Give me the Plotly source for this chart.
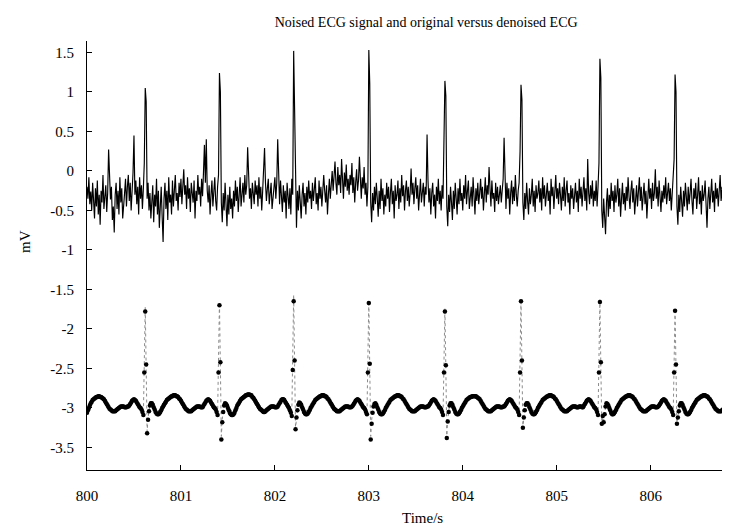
import numpy as np
import plotly.graph_objects as go

# ---- sampling / units -------------------------------------------------------
T_START = 800.0        # s, time of the first sample
DT = 0.01              # s, sampling step
UNIT = 0.01            # stored values are in units of 0.01 mV
LOWER_OFFSET = -3.0    # mV, original vs denoised pair is drawn shifted down by 3 mV

# ---- noised ECG (upper trace), 0.01 mV units --------------------------------
noised_ecg = [
    -20, -35, -8, -42, -26, -50, -15, -38, -60, -22, -45, -12, -55, -30, -68, -25, -40, -5, -48, -33,
    -18, -52, -28, 27, -10, -36, -20, -62, -45, -78, -30, -15, -48, -25, -55, -8, -40, -22, -60, -35,
    -28, -10, -45, -20, -5, -38, -15, -50, -25, -2, 45, -30, -12, -42, -20, -55, -8, -35, -18, -48,
    -22, 10, 105, 88, -35, -15, -50, -28, -60, -40, -18, -65, -30, -45, -10, -55, -25, -72, -38, -20,
    -58, -90, -35, -15, -48, -25, -62, -8, -40, -30, -55, -12, -45, -20, -5, -38, -28, -50, -15, -33,
    -10, -42, -25, 2, -30, -18, -48, -8, -35, -22, -52, -15, -28, -40, -12, -60, -25, -38, -5, -30,
    -20, -45, -10, -32, -2, 33, -15, 40, -25, -40, -18, -55, -30, -12, -45, -22, -8, -38, -50, -20,
    -5, 124, 100, -40, -65, -28, -50, -15, -42, -70, -30, -55, -20, -48, -35, -60, -25, -45, -12, -38,
    -20, -52, -30, -8, -45, -25, -15, -40, -5, -30, -18, 30, -10, -35, -22, -48, -15, -28, -42, -12,
    -30, -18, -45, -8, -35, -20, -50, -25, -5, 29, -15, -38, -22, -10, -42, -28, -15, -48, -30, -20,
    -8, -35, -15, 40, -20, -42, -12, -30, -52, -18, -40, -25, -60, -15, -35, -48, -22, -55, -10, -30,
    152, 80, -45, -72, -25, -50, -18, -38, -60, -30, -15, -45, -28, -55, -20, -40, -12, -35, -25, -48,
    -15, -38, -22, -8, -42, -28, -50, -12, -35, -20, -45, -30, -5, -25, -40, -18, -55, -30, -10, -35,
    -20, 0, -25, -8, 12, -15, -30, 5, -18, -5, -28, 15, -12, -35, -2, -20, 8, -25, -10, -30,
    -5, -18, 10, -28, -8, -40, -15, 2, -25, -12, 18, -20, -35, -8, -22, 5, -30, -15, -45, -20,
    153, 110, -40, -65, -28, -50, -20, -42, -15, -35, -58, -25, -48, -10, -38, -22, -55, -30, -45, -15,
    -35, -20, -52, -28, -10, -42, -25, -60, -18, -38, -30, -12, -48, -22, -40, -5, -32, -18, -50, -25,
    -12, -38, -20, -45, -28, 3, -30, -15, -42, -22, -8, -35, -18, -50, -25, -10, -40, -28, -15, -45,
    -20, -30, 46, -12, -40, -22, -55, -28, -15, -45, -30, -60, -20, -38, -10, -42, -25, -50, -18, -35,
    20, 114, 95, -45, -70, -30, -52, -20, -40, -62, -25, -48, -15, -35, -55, -22, -42, -10, -38, -28,
    -50, -18, -35, -5, -42, -25, -12, -48, -30, -20, -45, -8, -32, -55, -22, -38, -15, -42, -28, -10,
    -35, -20, -50, -25, -8, -40, -18, -30, 5, -22, -45, -12, -35, -28, -52, -15, -38, -20, -42, -30,
    -18, -40, -25, -10, 42, -30, -48, -15, -35, -22, -55, -28, -12, -42, -20, -38, -5, -30, -45, -25,
    -15, 25, 109, 90, -40, -62, -28, -48, -15, -38, -55, -22, -42, -30, -10, -45, -25, -52, -18, -35,
    -28, -12, -40, -22, -50, -8, -35, -18, -45, -30, -15, -38, -25, -55, -10, -32, -20, -48, -28, -5,
    -35, -22, -42, -15, -30, -50, -20, -38, -8, -45, -25, -12, -40, -28, -55, -18, -35, -22, -48, -30,
    -15, -40, -25, -52, -10, -35, -20, -45, -30, -8, -38, -22, -50, 15, -28, -42, -18, -35, -12, -45,
    -25, -38, -12, -45, -20, 10, 142, 118, -50, -72, -35, -55, -80, -40, -22, -58, -30, -48, -15, -38,
    -25, -52, -18, -40, -30, -10, -45, -22, -58, -35, -15, -42, -28, -50, -20, -38, -8, -32, -48, -25,
    -12, -40, -22, -55, -30, -18, -45, -28, -8, -38, -20, -50, -32, -15, -42, -25, -60, -30, -10, -35,
    -22, -48, -15, -38, -28, 2, -35, -20, -45, -12, -30, -52, -25, -40, -18, -35, -8, -42, -28, -15,
    -38, -22, -50, -30, -12, 15, 122, 100, -45, -68, -30, -52, -20, -40, -58, -25, -45, -15, -35, -50,
    -20, -42, -28, -10, -38, -55, -22, -35, -15, -48, -30, -8, -42, -25, -55, -18, -38, -30, -12, -45,
    -72, -35, -20, -48, -28, -10, -40, -25, -52, -15, -35, -22, -45, -30, -5, -38, -20, -50, -28, -12,
    -42, -25, -35, -15, -48, -30, -8, -40, -22, -55, -28, -12, -38, -20, -45, -30, -18, -42, -25, -35,
]

# ---- original ECG (gray dotted), 0.01 mV units, relative to its baseline -----
original_ecg = [
    -5, -2, 1, 4, 6, 8, 10, 11, 12, 13, 14, 14, 15, 15, 14, 14, 13, 12, 11, 9, 7, 5, 3, 1, 0, -1, -2, -3, -3, -3, -3, -2, -1, 0, 0, 1, 1, 2, 2, 2, 1, 1, 1, 2, 2,
    3, 5, 7, 9, 10, 11, 10, 9, 7, 5, 3, 1, 0, -1, -4, -10, 50,
    # beat 1
    128, 50, -30, -12, -2, 4, 6, 5, 3, 1,
    -1, -2, -3, -3, -3, -3, -2, -1, 1, 3, 5, 7, 9, 10, 11, 12, 13, 14, 15, 15, 16, 16, 16, 15, 15, 14, 12, 11, 9, 7, 5, 3, 1, 0, -1, -2, -3, -3, -3, -3, -2, -1, 0, 1, 1, 2, 2, 2, 2, 1, 1, 1,
    3, 5, 7, 9, 10, 11, 10, 9, 7, 5, 3, 1, 0, -1, -4, -10, 50,
    # beat 2
    134, 52, -36, -14, -3, 4, 6, 5, 3, 1,
    -1, -2, -3, -3, -3, -3, -2, -1, 1, 3, 5, 7, 9, 10, 11, 12, 13, 14, 15, 15, 16, 16, 16, 15, 15, 14, 12, 11, 9, 7, 5, 3, 1, 0, -1, -2, -3, -3, -3, -3, -2, -1, 0, 1, 1, 2, 2, 2, 2, 1, 1, 1,
    3, 5, 7, 9, 10, 11, 10, 9, 7, 5, 3, 1, 0, -1, -4, -10, 50,
    # beat 3
    143, 55, -28, -12, -2, 4, 6, 5, 3, 1,
    -1, -2, -3, -3, -3, -3, -2, -1, 1, 3, 5, 7, 9, 10, 11, 12, 13, 14, 15, 15, 16, 16, 16, 15, 15, 14, 12, 11, 9, 7, 5, 3, 1, 0, -1, -2, -3, -3, -3, -3, -2, -1, 0, 1, 1, 2, 2, 2, 2, 1, 1, 1, 2,
    3, 5, 7, 9, 10, 11, 10, 9, 7, 5, 3, 1, 0, -1, -4, -10, 50,
    # beat 4
    136, 50, -36, -15, -3, 3, 5, 5, 3, 1,
    -1, -2, -3, -3, -3, -3, -2, -1, 1, 3, 5, 7, 9, 10, 11, 12, 13, 14, 15, 15, 16, 16, 16, 15, 15, 14, 12, 11, 9, 7, 5, 3, 1, 0, -1, -2, -3, -3, -3, -3, -2, -1, 0, 1, 1, 2, 2, 2, 2, 1, 1, 1, 2, 2,
    3, 5, 7, 9, 10, 11, 10, 9, 7, 5, 3, 1, 0, -1, -4, -10, 50,
    # beat 5
    126, 50, -35, -14, -3, 4, 6, 5, 3, 1,
    -1, -2, -3, -3, -3, -3, -2, -1, 1, 3, 5, 7, 9, 10, 11, 12, 13, 14, 15, 15, 16, 16, 16, 15, 15, 14, 12, 11, 9, 7, 5, 3, 1, 0, -1, -2, -3, -3, -3, -3, -2, -1, 0, 1, 1, 2, 2, 2, 2, 1, 1, 1, 2, 2,
    3, 5, 7, 9, 10, 11, 10, 9, 7, 5, 3, 1, 0, -1, -4, -10, 50,
    # beat 6
    138, 55, -26, -12, -2, 4, 6, 5, 3, 1,
    -1, -2, -3, -3, -3, -3, -2, -1, 1, 3, 5, 7, 9, 10, 11, 12, 13, 14, 15, 15, 16, 16, 16, 15, 15, 14, 12, 11, 9, 7, 5, 3, 1, 0, -1, -2, -3, -3, -3, -3, -2, -1, 0, 1, 1, 2, 2, 2, 2, 1, 1, 1, 2, 2, 2, 1, 1,
    3, 5, 7, 9, 10, 11, 10, 9, 7, 5, 3, 1, 0, -1, -4, -10, 50,
    # beat 7
    137, 52, -22, -12, -16, -6, 3, 6, 4, 2,
    -1, -2, -3, -3, -3, -3, -2, -1, 1, 3, 5, 7, 9, 10, 11, 12, 13, 14, 15, 15, 16, 16, 16, 15, 15, 14, 12, 11, 9, 7, 5, 3, 1, 0, -1, -2, -3, -3, -3, -3, -2, -1, 0, 1, 1, 2, 2, 2, 2, 1, 1, 1, 2,
    3, 5, 7, 9, 10, 11, 10, 9, 7, 5, 3, 1, 0, -1, -4, -10, 50,
    # beat 8
    126, 50, -22, -12, -3, 4, 6, 5, 3, 1,
    -1, -2, -3, -3, -3, -3, -2, -1, 1, 3, 5, 7, 9, 10, 11, 12, 13, 14, 15, 15, 16, 16, 16, 15, 15, 14, 12, 11, 9, 7, 5, 3, 1, 0, -1, -2, -3, -3, -3, -3, -2, -1, 0, 1, 1, 2, 2, 2, 2, 1, 1, 1, 2,
    3, 5, 7, 9, 10, 11, 10, 9, 7, 5, 3,
]

# ---- denoised ECG (black dots), 0.01 mV units, relative to its baseline -----
denoised_ecg = [
    -6, -3, 0, 3, 6, 8, 10, 11, 12, 13, 14, 14, 15, 15, 14, 14, 13, 12, 11, 9, 7, 5, 3, 1, -1, -2, -3, -4, -4, -4, -4, -3, -2, -1, 0, 1, 2, 2, 2, 2, 1, 1, 1, 2, 2,
    3, 5, 7, 9, 10, 11, 10, 9, 7, 5, 3, 1, 0, -2, -5, -9, 45,
    # beat 1
    122, 55, -32, -15, -4, 3, 6, 6, 4, 1,
    -2, -5, -7, -8, -8, -7, -5, -3, 0, 2, 4, 6, 8, 10, 11, 12, 13, 14, 15, 15, 16, 16, 16, 15, 15, 14, 12, 11, 9, 7, 5, 3, 1, -1, -2, -3, -4, -4, -4, -4, -3, -2, -1, 0, 1, 2, 2, 2, 2, 1, 1, 1,
    3, 5, 7, 9, 10, 11, 10, 9, 7, 5, 3, 1, 0, -2, -5, -9, 45,
    # beat 2
    130, 58, -40, -18, -5, 3, 6, 5, 3, 0,
    -3, -6, -8, -9, -9, -8, -6, -3, 0, 3, 5, 7, 9, 11, 12, 13, 14, 15, 16, 16, 17, 17, 17, 16, 16, 14, 13, 11, 9, 7, 5, 3, 1, -1, -2, -3, -4, -5, -5, -4, -3, -2, -1, 0, 1, 2, 2, 2, 2, 1, 1, 1,
    2, 4, 6, 8, 10, 11, 11, 10, 8, 6, 4, 2, 0, -3, -6, -10, 48,
    # beat 3
    135, 60, -27, -12, -3, 4, 7, 6, 4, 1,
    -2, -5, -7, -8, -8, -7, -5, -3, 0, 2, 4, 6, 8, 10, 11, 12, 13, 14, 15, 15, 16, 16, 16, 15, 15, 14, 12, 11, 9, 7, 5, 3, 1, -1, -2, -3, -4, -4, -4, -4, -3, -2, -1, 0, 1, 2, 2, 2, 2, 1, 1, 1, 2,
    3, 5, 7, 9, 10, 11, 10, 9, 7, 5, 3, 1, 0, -2, -5, -8, 45,
    # beat 4
    133, 56, -40, -20, -6, 2, 5, 6, 4, 1,
    -2, -5, -7, -8, -8, -7, -5, -3, 0, 2, 4, 6, 8, 10, 11, 12, 13, 14, 15, 15, 16, 16, 16, 15, 15, 14, 12, 11, 9, 7, 5, 3, 1, -1, -2, -3, -4, -4, -4, -4, -3, -2, -1, 0, 1, 2, 2, 2, 2, 1, 1, 1, 2, 2,
    3, 5, 7, 9, 10, 11, 10, 9, 7, 5, 3, 1, 0, -2, -5, -9, 45,
    # beat 5
    122, 54, -38, -17, -5, 3, 6, 6, 4, 1,
    -2, -5, -7, -8, -8, -7, -5, -3, 0, 2, 4, 6, 8, 10, 11, 12, 13, 14, 14, 15, 15, 15, 15, 15, 14, 13, 12, 11, 9, 7, 5, 3, 1, -1, -2, -3, -4, -4, -4, -4, -3, -2, -1, 0, 1, 2, 2, 2, 2, 1, 1, 1, 2, 2,
    3, 5, 7, 9, 10, 11, 10, 9, 7, 5, 3, 1, 0, -2, -5, -9, 45,
    # beat 6
    135, 60, -25, -12, -3, 4, 6, 6, 4, 1,
    -2, -5, -7, -8, -8, -7, -5, -3, 0, 2, 4, 6, 8, 10, 11, 12, 13, 14, 15, 15, 16, 16, 16, 15, 15, 14, 12, 11, 9, 7, 5, 3, 1, -1, -2, -3, -4, -4, -4, -4, -3, -2, -1, 0, 1, 2, 2, 2, 2, 1, 1, 1, 2, 2, 2, 1, 1,
    3, 5, 7, 9, 10, 11, 10, 9, 7, 5, 3, 1, 0, -2, -5, -9, 45,
    # beat 7
    134, 58, -20, -10, -18, -8, 2, 6, 5, 3,
    0, -3, -6, -8, -8, -7, -5, -3, 0, 2, 4, 6, 8, 10, 11, 12, 13, 14, 15, 15, 16, 16, 16, 15, 15, 14, 12, 11, 9, 7, 5, 3, 1, -1, -2, -3, -4, -4, -4, -4, -3, -2, -1, 0, 1, 2, 2, 2, 2, 1, 1, 1, 2,
    3, 5, 7, 9, 10, 11, 10, 9, 7, 5, 3, 1, 0, -2, -5, -9, 45,
    # beat 8
    123, 55, -20, -12, -4, 3, 6, 6, 4, 1,
    -2, -5, -7, -8, -8, -7, -5, -3, 0, 2, 4, 6, 8, 10, 11, 12, 13, 14, 15, 15, 16, 16, 16, 15, 15, 14, 12, 11, 9, 7, 5, 3, 1, -1, -2, -3, -4, -4, -4, -4, -3, -2, -1, 0, 1, 2, 2, 2, 2, 1, 1, 1, 2,
    3, 5, 7, 9, 10, 11, 10, 9, 7, 5, 3,
]

# ---- axes -----------------------------------------------------------------------
x_ticks = [800, 801, 802, 803, 804, 805, 806]
x_labels = ["800", "801", "802", "803", "804", "805", "806"]
y_ticks = [1.5, 1, 0.5, 0, -0.5, -1, -1.5, -2, -2.5, -3, -3.5]
y_labels = ["1.5", "1", "0.5", "0", "-0.5", "-1", "-1.5", "-2", "-2.5", "-3", "-3.5"]
x_range = [800, 806.93]
y_range = [-3.785, 1.645]

TITLE = "Noised ECG signal and original versus denoised ECG"
X_TITLE = "Time/s"
Y_TITLE = "mV"


def times(series):
    return T_START + DT * np.arange(len(series))


fig = go.Figure()
fig.add_trace(go.Scatter(
    x=times(noised_ecg), y=np.array(noised_ecg) * UNIT,
    mode="lines", line=dict(color="black", width=1.15), name="noised ECG"))
fig.add_trace(go.Scatter(
    x=times(original_ecg), y=LOWER_OFFSET + np.array(original_ecg) * UNIT,
    mode="lines", line=dict(color="#8c8c8c", width=1, dash="dot"), name="original ECG"))
fig.add_trace(go.Scatter(
    x=times(denoised_ecg), y=LOWER_OFFSET + np.array(denoised_ecg) * UNIT,
    mode="markers", marker=dict(color="black", size=4.5, line=dict(width=0)), name="denoised ECG"))

FONT = "Liberation Serif, Times New Roman, serif"
fig.update_layout(
    width=730, height=525,
    margin=dict(l=79, r=0, t=33, b=63),
    paper_bgcolor="white", plot_bgcolor="white",
    showlegend=False,
    font=dict(family=FONT, size=15, color="black"),
    title=dict(text=TITLE, xref="paper", x=0.521, xanchor="center",
               yref="container", y=1 - 14 / 525, yanchor="middle",
               font=dict(family=FONT, size=14, color="black")),
    annotations=[
        dict(text=X_TITLE, xref="paper", yref="paper", x=0.516, y=-0.112,
             xanchor="center", yanchor="middle", showarrow=False,
             font=dict(family=FONT, size=15, color="black")),
        dict(text=Y_TITLE, xref="paper", yref="paper", x=-0.095, y=0.532,
             xanchor="center", yanchor="middle", showarrow=False, textangle=-90,
             font=dict(family=FONT, size=15, color="black")),
    ],
)
fig.update_xaxes(
    range=x_range, tickvals=x_ticks, ticktext=x_labels,
    ticks="inside", ticklen=5, tickwidth=1, tickcolor="black",
    showline=True, linecolor="black", linewidth=1,
    showgrid=False, zeroline=False, ticklabelstandoff=12,
    tickfont=dict(family=FONT, size=15, color="black"))
fig.update_yaxes(
    range=y_range, tickvals=y_ticks, ticktext=y_labels,
    ticks="inside", ticklen=5, tickwidth=1, tickcolor="black",
    showline=True, linecolor="black", linewidth=1,
    showgrid=False, zeroline=False, ticklabelstandoff=9,
    tickfont=dict(family=FONT, size=15, color="black"))

fig.write_html("out.html")
